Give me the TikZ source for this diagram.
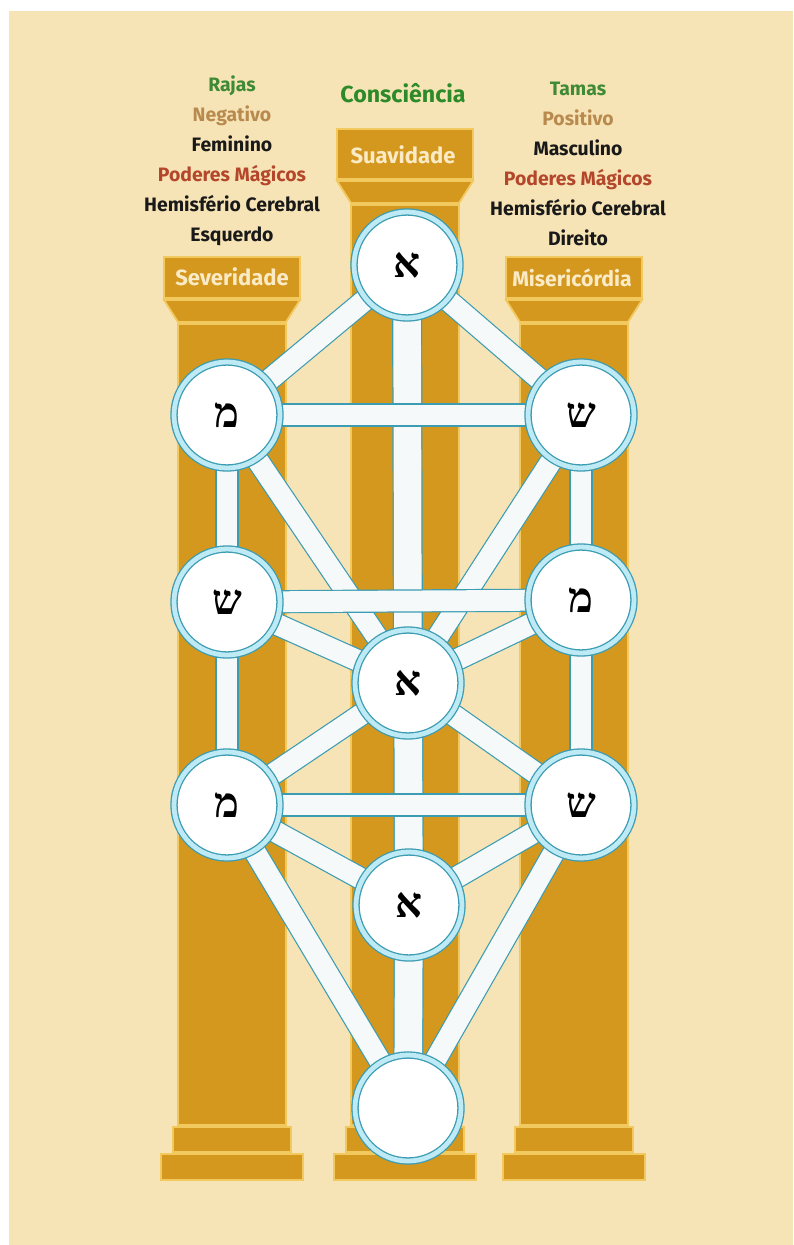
\documentclass[tikz,border=0pt]{standalone}
\usepackage{fontspec}
\setmainfont{Fira Sans}
\newfontfamily\hebfont[Script=Hebrew]{Liberation Serif}
\usepackage{xcolor}
\definecolor{creamBg}{HTML}{F7E4B6}
\definecolor{pillarGold}{HTML}{D4981F}
\definecolor{seamGold}{HTML}{F2C95E}
\definecolor{capText}{HTML}{FAEBC6}
\definecolor{tealEdge}{HTML}{3C9CB2}
\definecolor{ringCyan}{HTML}{BDEAF4}
\definecolor{barWhite}{HTML}{F5F9FA}
\definecolor{rajasGreen}{HTML}{3F8A35}
\definecolor{conscGreen}{HTML}{2C8A28}
\definecolor{tanText}{HTML}{B88A4E}
\definecolor{rustText}{HTML}{B4472B}
\usepackage{tikz}
\usetikzlibrary{positioning, backgrounds}

\begin{document}
\begin{tikzpicture}[
    x=0.5pt, y=-0.5pt,
    pillar/.style={fill=pillarGold, draw=seamGold, line width=0.9pt},
    sefira/.style={circle, fill=white, draw=tealEdge, double=ringCyan,
                   double distance=2.4pt, line width=0.65pt, minimum size=53pt,
                   inner sep=0pt, font=\hebfont\bfseries\fontsize{21}{21}\selectfont},
    bar/.style  ={draw=tealEdge, double=barWhite, double distance=10.4pt, line width=0.6pt},
    trunk/.style={bar, double distance=13.8pt},
    capLbl/.style={font=\bfseries\fontsize{11}{13}\selectfont, text=capText},
    colTxt/.style={align=center, font=\bfseries\fontsize{9.7}{15}\selectfont, text=black!90}
]
\useasboundingbox (0,0) rectangle (793,1245);

% the ten circles
\node[sefira] (keter)   at (407,265)  {א};
\node[sefira] (chokmah) at (581,415)  {ש};
\node[sefira] (binah)   at (227,415)  {מ};
\node[sefira] (chesed)  at (581,600)  {מ};
\node[sefira] (gevurah) at (227,602)  {ש};
\node[sefira] (tiferet) at (408,683)  {א};
\node[sefira] (netzach) at (581,805)  {ש};
\node[sefira] (hod)     at (227,805)  {מ};
\node[sefira] (yesod)   at (409,905)  {א};
\node[sefira] (malkut)  at (408,1108) {};

% texts
\node[capLbl] (suavidade)    at (403,155) {Suavidade};
\node[capLbl] (severidade)   at (232,277) {Severidade};
\node[capLbl, font=\bfseries\fontsize{10.6}{13}\selectfont] (misericordia) at (572,278) {Misericórdia};
\node[font=\bfseries\fontsize{11.6}{13}\selectfont, text=conscGreen,
      above=0.5cm of suavidade] (consciencia) {Consciência};
\node[colTxt] (leftCol) at (232,161)
    {\textcolor{rajasGreen}{Rajas}\\ \textcolor{tanText}{Negativo}\\ Feminino\\
     \textcolor{rustText}{Poderes Mágicos}\\ Hemisfério Cerebral\\ Esquerdo};
\node[colTxt] (rightCol) at (578,164)
    {\textcolor{rajasGreen}{Tamas}\\ \textcolor{tanText}{Positivo}\\ Masculino\\
     \textcolor{rustText}{Poderes Mágicos}\\ Hemisfério Cerebral\\ Direito};

\begin{scope}[on background layer]
    \fill[white] (0,0) rectangle (793,1245);
    \fill[creamBg] (9,11) rectangle (793,1245);
    % pillars: centre x / capital top / capital bottom
    \foreach \cx/\ct/\cb in {232/257/298, 405/129/179, 574/257/298} {
        \filldraw[pillar] (\cx-68,\ct) rectangle (\cx+68,\cb);
        \filldraw[pillar] (\cx-68,\cb+2) -- (\cx+68,\cb+2) -- (\cx+54,\cb+24) -- (\cx-54,\cb+24) -- cycle;
        \filldraw[pillar] (\cx-54,\cb+26) rectangle (\cx+54,1125);
        \filldraw[pillar] (\cx-59,1127) rectangle (\cx+59,1152);
        \filldraw[pillar] (\cx-71,1154) rectangle (\cx+71,1180);
    }
    % paths
    \foreach \a/\b in {keter/chokmah, keter/binah, binah/gevurah, gevurah/hod,
                       chokmah/chesed, chesed/netzach, binah/tiferet, chokmah/tiferet,
                       gevurah/tiferet, chesed/tiferet, hod/tiferet, netzach/tiferet,
                       hod/yesod, netzach/yesod, hod/malkut, netzach/malkut}
        \draw[bar] (\a.center) -- (\b.center);
    \foreach \a/\b in {keter/tiferet, tiferet/yesod, yesod/malkut}
        \draw[trunk] (\a.center) -- (\b.center);
    \foreach \a/\b in {binah/chokmah, gevurah/chesed, hod/netzach}
        \draw[bar] (\a.center) -- (\b.center);
\end{scope}
\end{tikzpicture}
\end{document}
